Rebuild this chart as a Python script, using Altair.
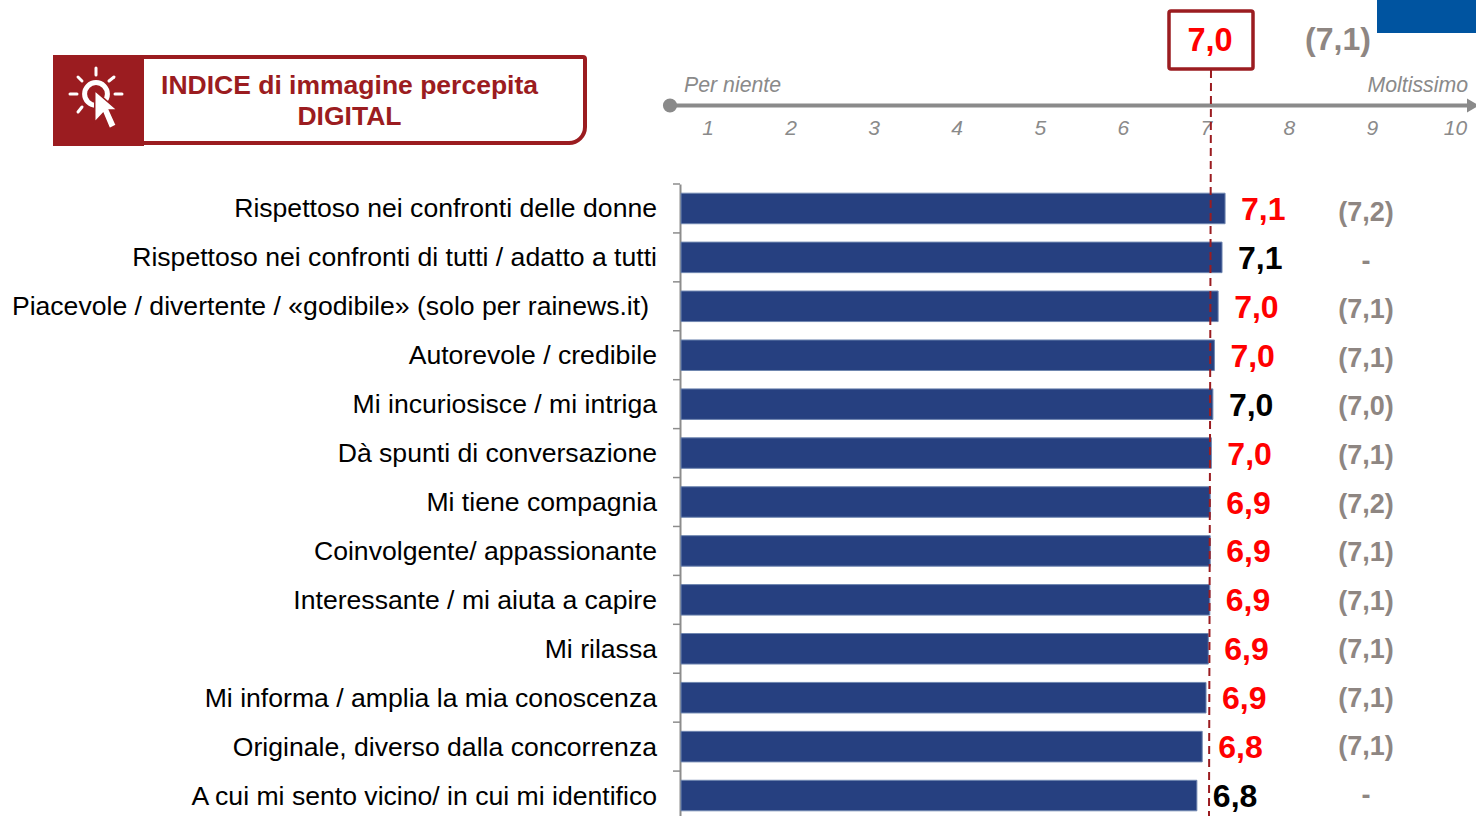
import altair as alt
import pandas as pd

# Survey items, current score (bar), printed score, previous wave
items = [
    "Rispettoso nei confronti delle donne",
    "Rispettoso nei confronti di tutti / adatto a tutti",
    "Piacevole / divertente / «godibile» (solo per rainews.it)",
    "Autorevole / credibile",
    "Mi incuriosisce / mi intriga",
    "Dà spunti di conversazione",
    "Mi tiene compagnia",
    "Coinvolgente/ appassionante",
    "Interessante / mi aiuta a capire",
    "Mi rilassa",
    "Mi informa / amplia la mia conoscenza",
    "Originale, diverso dalla concorrenza",
    "A cui mi sento vicino/ in cui mi identifico",
]
scores = [7.14, 7.10, 7.049, 7.0, 6.98, 6.96, 6.945, 6.945, 6.94, 6.92, 6.89, 6.84, 6.77]
score_labels = ["7,1", "7,1", "7,0", "7,0", "7,0", "7,0", "6,9", "6,9", "6,9", "6,9", "6,9", "6,8", "6,8"]
tones = ["up", "flat", "up", "up", "flat", "up", "up", "up", "up", "up", "up", "up", "flat"]
previous = ["(7,2)", "-", "(7,1)", "(7,1)", "(7,0)", "(7,1)", "(7,2)", "(7,1)", "(7,1)", "(7,1)", "(7,1)", "(7,1)", "-"]
ruler_ticks = [1, 2, 3, 4, 5, 6, 7, 8, 9, 10]

FONT = "Liberation Sans"
BRICK = "#9B1C20"
GREY_TEXT = "#8E8682"
AXIS_GREY = "#8A8A8A"

rows = pd.DataFrame({
    "item": items, "score": scores, "label": score_labels,
    "tone": tones, "previous": previous,
})
ruler = pd.DataFrame({"tick": ruler_ticks})

y_band = alt.Scale(domain=items, range=[184, 820], paddingInner=0.376, paddingOuter=0.188)
x_bars = alt.Scale(domain=[0, 10], range=[681, 1443])
one = pd.DataFrame({"k": [0]})


def rule(x, x2, y, y2, color, width, **kw):
    return alt.Chart(one).mark_rule(color=color, strokeWidth=width, **kw).encode(
        x=alt.value(x), x2=alt.value(x2), y=alt.value(y), y2=alt.value(y2))


def label(text, x, y, size, color, bold=False, italic=False, align="center"):
    return alt.Chart(one).mark_text(
        text=text, font=FONT, fontSize=size, color=color, align=align, baseline="middle",
        fontWeight="bold" if bold else "normal", fontStyle="italic" if italic else "normal",
    ).encode(x=alt.value(x), y=alt.value(y))


def box(x, x2, y, y2, **kw):
    return alt.Chart(one).mark_rect(**kw).encode(
        x=alt.value(x), x2=alt.value(x2), y=alt.value(y), y2=alt.value(y2))


bars = alt.Chart(rows).mark_bar(color="#264080", stroke="#6F86B0", strokeWidth=1).encode(
    x=alt.X("score:Q", scale=x_bars, axis=None),
    x2=alt.value(681),
    y=alt.Y("item:N", scale=y_band, sort=items, title=None, axis=alt.Axis(
        orient="left", offset=-680, labels=False, title=None, grid=False, ticks=False,
        domainColor="#8C8C8C", domainWidth=2)),
)

# Category separators: short ticks on the boundary above each row
separators = alt.Chart(rows).mark_rule(color="#8C8C8C", strokeWidth=1.5, yOffset=-24.46).encode(
    x=alt.value(673), x2=alt.value(680),
    y=alt.Y("item:N", scale=y_band, sort=items, axis=None),
)

# Item names sit right-aligned beside the bars; the longest one is pulled in a little further
long_item = max(items, key=len)
names = alt.Chart(rows[rows["item"] != long_item]).mark_text(
    font=FONT, fontSize=26.6, align="right", baseline="middle", color="#000000", dy=1,
).encode(x=alt.value(657), y=alt.Y("item:N", scale=y_band, sort=items, axis=None), text="item:N")
long_name = alt.Chart(rows[rows["item"] == long_item]).mark_text(
    font=FONT, fontSize=26.6, align="right", baseline="middle", color="#000000", dy=1,
).encode(x=alt.value(649), y=alt.Y("item:N", scale=y_band, sort=items, axis=None), text="item:N")

values = alt.Chart(rows).mark_text(
    font=FONT, fontSize=32, fontWeight="bold", align="left", baseline="middle", dx=16, dy=1.5,
).encode(
    x=alt.X("score:Q", scale=x_bars, axis=None),
    y=alt.Y("item:N", scale=y_band, sort=items, axis=None),
    text="label:N",
    color=alt.Color("tone:N", scale=alt.Scale(domain=["up", "flat"], range=["#FF0000", "#000000"]), legend=None),
)

prev = alt.Chart(rows).mark_text(
    font=FONT, fontSize=27, fontWeight="bold", color=GREY_TEXT, align="center", baseline="middle",
).encode(
    x=alt.value(1366),
    y=alt.Y("item:N", sort=items, axis=None,
            scale=alt.Scale(type="point", domain=items, range=[213, 796], padding=0)),
    text="previous:N",
)

# Ruler above the bars
ruler_line = rule(670, 1470, 105.5, 105.5, AXIS_GREY, 4)
ruler_start = alt.Chart(one).mark_point(shape="circle", filled=True, size=200, color=AXIS_GREY, opacity=1).encode(
    x=alt.value(670), y=alt.value(105.5))
ruler_end = alt.Chart(one).mark_point(shape="triangle-right", filled=True, size=190, color=AXIS_GREY, opacity=1).encode(
    x=alt.value(1473), y=alt.value(105.5))
ruler_text = alt.Chart(ruler).mark_text(
    font=FONT, fontSize=21, fontStyle="italic", color=AXIS_GREY, align="center", baseline="middle",
).encode(
    x=alt.X("tick:Q", scale=alt.Scale(domain=[1, 10], range=[708, 1455.5]), axis=None),
    y=alt.value(129), text="tick:Q",
)

# Overall score box with the reference line dropping from it
reference = rule(1211, 1209, 70, 816, BRICK, 2, strokeDash=[8, 5])
score_box = box(1169, 1253, 11, 69, fill="#FFFFFF", stroke=BRICK, strokeWidth=3.5, cornerRadius=2)

# Heading badge
heading_frame = box(142, 585, 57, 143, fill="#FFFFFF", stroke=BRICK, strokeWidth=4,
                    cornerRadiusBottomRight=16, cornerRadiusTopRight=2)
heading_tile = box(53, 144, 55, 146, fill=BRICK)
rays = [
    rule(96, 96, 68, 75, "#FFFFFF", 3, strokeCap="round"),
    rule(70, 77, 94, 94, "#FFFFFF", 3, strokeCap="round"),
    rule(115, 122, 94, 94, "#FFFFFF", 3, strokeCap="round"),
    rule(78, 82, 77, 81, "#FFFFFF", 3, strokeCap="round"),
    rule(114, 109, 77, 81, "#FFFFFF", 3, strokeCap="round"),
    rule(78, 82, 112, 107, "#FFFFFF", 3, strokeCap="round"),
]
ring = alt.Chart(one).mark_point(shape="circle", filled=False, size=520, color="#FFFFFF", strokeWidth=5, opacity=1).encode(
    x=alt.value(96), y=alt.value(94))
pointer = alt.Chart(one).mark_point(
    shape="M-0.46,-0.8 L0.46,0.0 L0.14,0.0 L0.42,0.62 L0.14,0.76 L-0.12,0.14 L-0.46,0.5 Z",
    filled=True, size=2400, fill="#FFFFFF", stroke=BRICK, strokeWidth=1.5, opacity=1,
).encode(x=alt.value(106), y=alt.value(110))

corner_tab = box(1377, 1476, 0, 33, fill="#0054A0")

chart = alt.layer(
    ruler_line, ruler_start, ruler_end, ruler_text,
    label("Per niente", 684, 85.5, 21.3, AXIS_GREY, italic=True, align="left"),
    label("Moltissimo", 1468, 85.5, 21.3, AXIS_GREY, italic=True, align="right"),
    bars, separators, reference, score_box,
    label("7,0", 1210, 41, 32.5, "#FF0000", bold=True),
    label("(7,1)", 1338, 40, 32, GREY_TEXT, bold=True),
    corner_tab,
    heading_frame, heading_tile, *rays, ring, pointer,
    label("INDICE di immagine percepita", 349.5, 86, 26.5, BRICK, bold=True),
    label("DIGITAL", 349.5, 117, 26.5, BRICK, bold=True),
    names, long_name, values, prev,
).resolve_scale(x="independent", y="independent", color="independent").properties(
    width=1476, height=816, padding=0, background="#FFFFFF",
    autosize=alt.AutoSizeParams(type="none"),
).configure_view(stroke=None)

chart.save("out.html", embed_options={"renderer": "svg", "actions": False})
